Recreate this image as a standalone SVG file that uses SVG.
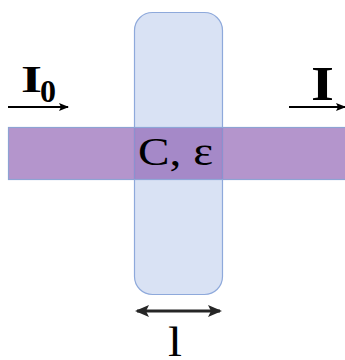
<svg xmlns="http://www.w3.org/2000/svg" width="345" height="360" viewBox="0 0 345 360">
<style>
.serif{font-family:"Liberation Serif","Times New Roman",serif;fill:#000}
.b{font-weight:bold}
.arr{stroke:#000;stroke-width:2;fill:none}
</style>
<defs>
<marker id="ah" markerWidth="10" markerHeight="8" refX="9" refY="4" orient="auto" markerUnits="userSpaceOnUse">
<path d="M0,0 L10,4 L0,8 L2,4 Z" fill="#000"/>
</marker>
<marker id="dh" markerWidth="14" markerHeight="12" refX="12" refY="6" orient="auto-start-reverse" markerUnits="userSpaceOnUse">
<path d="M0,0 L14,6 L0,12 L3,6 Z" fill="#262626"/>
</marker>
</defs>
<rect width="345" height="360" fill="#fff"/>
<g id="cuvette">
<rect x="134.5" y="12.5" width="88" height="282" rx="18" fill="#D9E2F4" stroke="#8EA9DB" stroke-width="1.2"/>
</g>
<g id="beam">
<rect x="8.5" y="127.5" width="340" height="52" fill="rgb(130,78,170)" fill-opacity="0.6" stroke="#8EA3D3" stroke-width="1.2"/>
<rect x="134.5" y="127.5" width="88" height="52" fill="none" stroke="#8EA9DB" stroke-opacity="0.6" stroke-width="1"/>
<text class="serif" x="138" y="165" font-size="39" textLength="75" lengthAdjust="spacingAndGlyphs">C, ε</text>
</g>
<g id="incident">
<text class="serif b" x="21" y="92" font-size="38" textLength="21" lengthAdjust="spacingAndGlyphs">I</text>
<text class="serif b" x="40" y="102" font-size="32">0</text>
</g>
<g id="transmitted">
<text class="serif b" x="311" y="100" font-size="48" textLength="23" lengthAdjust="spacingAndGlyphs">I</text>
</g>
<g id="length">
<text class="serif" x="168" y="356" font-size="42" textLength="14" lengthAdjust="spacingAndGlyphs">l</text>
</g>
<g id="connectors">
<line class="arr" x1="8" y1="107" x2="68" y2="107" marker-end="url(#ah)"/>
<line class="arr" x1="289" y1="107" x2="345" y2="107" marker-end="url(#ah)"/>
<line x1="137" y1="311" x2="220" y2="311" stroke="#262626" stroke-width="3" marker-start="url(#dh)" marker-end="url(#dh)"/>
</g>
</svg>
